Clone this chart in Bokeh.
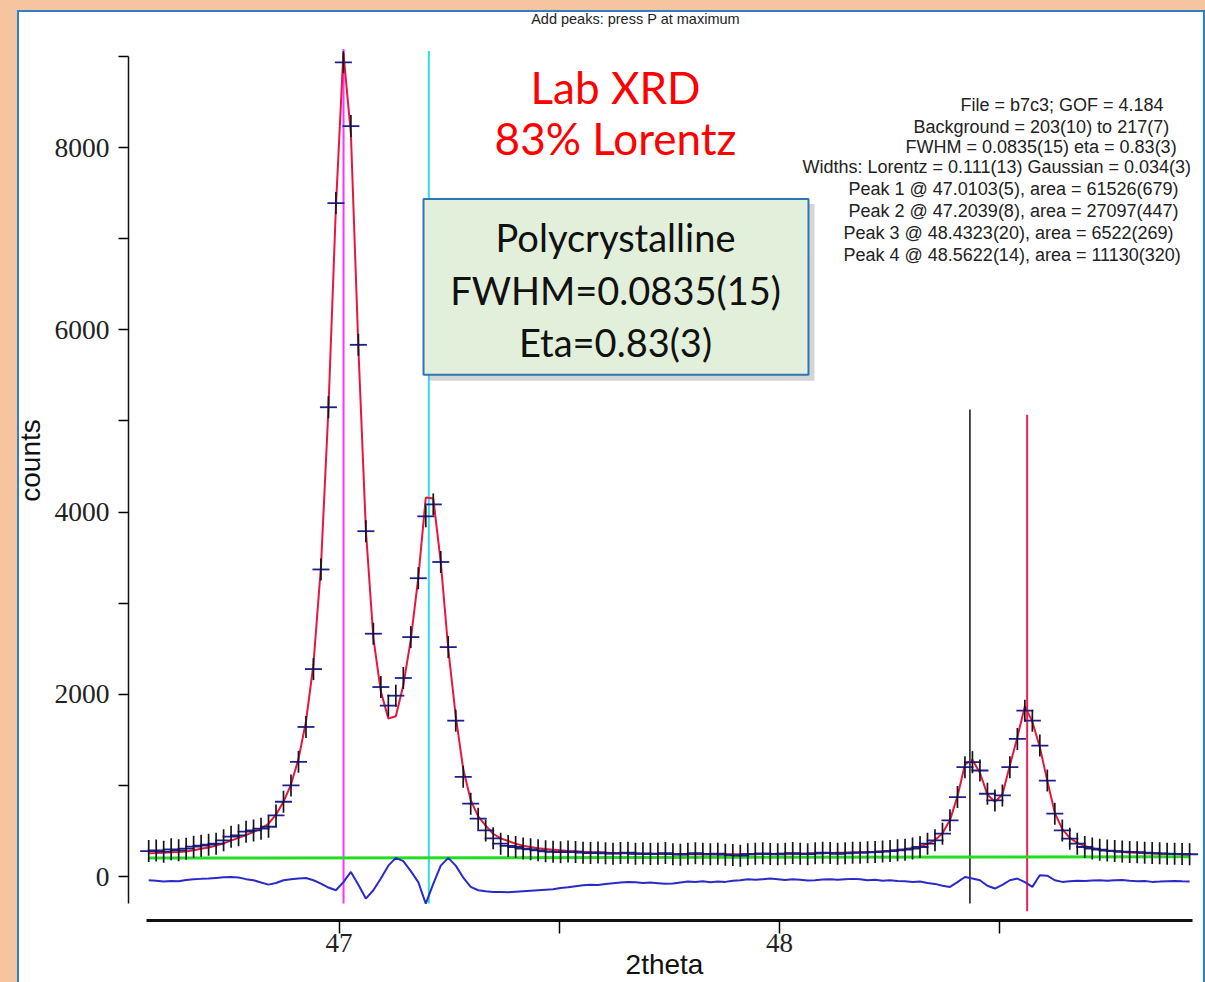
from bokeh.plotting import figure
from bokeh.models import Range1d, FixedTicker, Label
from bokeh.embed import file_html
from bokeh.resources import INLINE
import math

# ---------------- data ----------------
scan_start = 46.568      # first 2theta of the scan
scan_step = 0.017        # scan step (deg)

obs_counts = [
    280, 287, 273, 299, 288, 306, 328, 339, 350, 361,
    398, 438, 453, 493, 507, 526, 547, 671, 821, 1000,
    1259, 1642, 2277, 3370, 5150, 7390, 8935, 8235, 5835, 3790,
    2665, 2080, 1876, 1985, 2179, 2628, 3274, 3953, 4084, 3452,
    2518, 1711, 1095, 800, 635, 507, 420, 361, 336, 325,
    307, 299, 288, 277, 272, 268, 275, 270, 262, 258,
    265, 256, 252, 258, 262, 250, 255, 248, 252, 258,
    246, 240, 250, 256, 250, 245, 252, 240, 236, 230,
    245, 250, 255, 248, 244, 252, 258, 250, 246, 255,
    262, 258, 250, 256, 262, 262, 266, 270, 275, 280,
    288, 295, 307, 325, 361, 398, 471, 617, 873, 1201,
    1256, 1164, 909, 836, 891, 1201, 1511, 1821, 1711, 1438,
    1054, 690, 507, 416, 361, 325, 307, 295, 285, 280,
    275, 270, 268, 262, 258, 255, 252, 250, 248, 245]

calc_counts = [
    255, 258, 262, 266, 270, 276, 290, 305, 320, 340,
    365, 395, 425, 455, 490, 525, 580, 680, 820, 1010,
    1290, 1700, 2330, 3400, 5130, 7350, 9040, 8150, 5800, 3800,
    2620, 2030, 1735, 1760, 2100, 2600, 3280, 4160, 4150, 3450,
    2500, 1760, 1180, 840, 660, 560, 470, 420, 390, 360,
    340, 325, 312, 302, 295, 288, 282, 277, 272, 268,
    265, 262, 259, 257, 255, 253, 251, 250, 249, 248,
    247, 246, 246, 245, 245, 245, 245, 245, 245, 246,
    246, 247, 248, 249, 250, 251, 252, 253, 254, 255,
    257, 259, 261, 263, 265, 267, 268, 272, 277, 283,
    291, 300, 310, 330, 360, 400, 475, 620, 880, 1230,
    1280, 1140, 900, 820, 900, 1220, 1530, 1870, 1700, 1420,
    1050, 700, 520, 425, 370, 335, 312, 296, 285, 276,
    270, 265, 261, 257, 254, 251, 249, 247, 245, 243]

resid_plot = [
    -40, -45, -55, -48, -52, -38, -30, -25, -22, -15,
    -8, -4, -10, -28, -40, -65, -88, -70, -40, -30,
    -20, -15, -40, -77, -120, -150, -60, 51, -90, -241,
    -150, -20, 120, 205, 170, 60, -60, -296, -80, 120,
    205, 120, -10, -113, -150, -160, -168, -170, -172, -165,
    -160, -155, -150, -145, -140, -125, -118, -105, -95, -90,
    -92, -80, -72, -65, -58, -62, -70, -66, -72, -78,
    -77, -65, -55, -60, -50, -62, -55, -58, -45, -40,
    -30, -35, -28, -22, -30, -38, -30, -35, -42, -40,
    -32, -28, -35, -30, -25, -30, -40, -35, -45, -40,
    -48, -52, -60, -55, -70, -80, -100, -113, -60, -4,
    -20, -40, -100, -131, -90, -40, -22, -60, -113, 14,
    10, -40, -58, -50, -45, -48, -42, -40, -45, -40,
    -38, -45, -50, -48, -58, -55, -50, -48, -52, -55]

two_theta = [round(scan_start + i * scan_step, 4) for i in range(len(obs_counts))]

background_ends = [203, 217]
peak_positions = [47.0103, 47.2039, 48.4323, 48.5622]
peak_line_tops = [9080, 9060, 5124, 5069]
peak_line_bottoms = [-296, -296, -296, -380]
peak_line_colors = ["#ff33ff", "#33dddd", "#111111", "#ee2255"]

y_major = [0, 2000, 4000, 6000, 8000]
y_minor = [1000, 3000, 5000, 7000, 9000]
x_major = [47, 48]
x_minor = [47.5, 48.5]

info_lines = [
    "File = b7c3; GOF = 4.184",
    "Background = 203(10) to 217(7)",
    "FWHM = 0.0835(15) eta = 0.83(3)",
    "Widths: Lorentz = 0.111(13) Gaussian = 0.034(3)",
    "Peak 1 @ 47.0103(5), area = 61526(679)",
    "Peak 2 @ 47.2039(8), area = 27097(447)",
    "Peak 3 @ 48.4323(20), area = 6522(269)",
    "Peak 4 @ 48.5622(14), area = 11130(320)",
]
box_lines = ["Polycrystalline", "FWHM=0.0835(15)", "Eta=0.83(3)"]
title_lines = ["Lab XRD", "83% Lorentz"]

# ---------------- layout helpers (page pixels -> data) ----------------
X0PX, XSC = 338.5, 440.5      # page x of 2theta=47, px per degree
Y0PX, YSC = 878.0, 0.0913333  # page y of 0 counts, px per count


def X(px):
    return 47 + (px - X0PX) / XSC


def Y(py):
    return (Y0PX - py) / YSC


p = figure(width=1205, height=982,
           x_range=Range1d(X(128), X(1200)), y_range=Range1d(Y(922), Y(0)),
           output_backend="svg", toolbar_location=None,
           min_border_left=128, min_border_right=5,
           min_border_top=0, min_border_bottom=60)
p.styles = {
    "background-color": "white",
    "box-shadow": ("inset 17px 10px 0px 0px #f7c4a0, "
                   "inset 19px 12px 0px 0px #2f7fc8, "
                   "inset -2px 0px 0px 0px #2f7fc8"),
}
p.background_fill_color = None
p.border_fill_color = None
p.outline_line_color = None
p.xgrid.visible = False
p.ygrid.visible = False

# axes
xa = p.xaxis[0]
xa.bounds = (X(146), X(1192))
xa.ticker = FixedTicker(ticks=x_major, minor_ticks=x_minor)
xa.axis_line_width = 3
xa.axis_line_color = "#111111"
xa.major_tick_in = 0
xa.major_tick_out = 13
xa.minor_tick_in = 0
xa.minor_tick_out = 13
xa.major_tick_line_width = 1.5
xa.minor_tick_line_width = 1.5
xa.major_label_standoff = 0
xa.major_label_text_font = "Liberation Serif"
xa.major_label_text_font_size = "27px"
xa.major_label_text_color = "#222222"
xa.axis_label = "2theta"
xa.axis_label_text_font = "Liberation Sans"
xa.axis_label_text_font_size = "28px"
xa.axis_label_text_font_style = "normal"
xa.axis_label_text_color = "#111111"
xa.axis_label_standoff = -6

ya = p.yaxis[0]
ya.bounds = (Y(905), 9000)
ya.ticker = FixedTicker(ticks=y_major, minor_ticks=y_minor)
ya.axis_line_width = 1.5
ya.axis_line_color = "#111111"
ya.major_tick_in = 0
ya.major_tick_out = 10
ya.minor_tick_in = 0
ya.minor_tick_out = 10
ya.major_tick_line_width = 1.3
ya.minor_tick_line_width = 1.3
ya.major_label_standoff = 9
ya.major_label_text_font = "Liberation Serif"
ya.major_label_text_font_size = "27.5px"
ya.major_label_text_color = "#222222"
ya.axis_label = "counts"
ya.axis_label_text_font = "Liberation Sans"
ya.axis_label_text_font_size = "28px"
ya.axis_label_text_font_style = "normal"
ya.axis_label_text_color = "#111111"
ya.axis_label_standoff = 6

# peak marker lines
for pos, top, bot, col in zip(peak_positions, peak_line_tops, peak_line_bottoms, peak_line_colors):
    p.segment(x0=[pos], y0=[bot], x1=[pos], y1=[top], line_color=col,
              line_width=2 if col != "#111111" else 1.5)

# background
p.line([two_theta[0], two_theta[-1]], background_ends, line_color="#22dd22", line_width=3)

# fit, residual, observed points (blue horizontal + black vertical arms)
p.line(two_theta, calc_counts, line_color="#e8163e", line_width=2)
p.line(two_theta, resid_plot, line_color="#2a2ac8", line_width=2)
p.scatter(two_theta, obs_counts, marker="dash", size=17, line_color="#1e1e8c", line_width=1.8)
p.scatter(two_theta, obs_counts, marker="dash", angle=math.pi / 2, size=22,
          line_color="#15151f", line_width=1.7)

# annotation box (shadow, box)
p.quad(left=[X(428)], right=[X(814)], top=[Y(204)], bottom=[Y(381)],
       fill_color="#888888", fill_alpha=0.35, line_color=None)
p.quad(left=[X(423)], right=[X(808)], top=[Y(199)], bottom=[Y(375)],
       fill_color="#e2efda", line_color="#2e75b6", line_width=2)

for txt, py in zip(box_lines, [237, 290, 342]):
    p.add_layout(Label(x=X(615), y=Y(py), text=txt, text_align="center",
                       text_baseline="middle", text_font="Lato",
                       text_font_size="38px", text_color="#111111"))

for txt, py in zip(title_lines, [87, 138]):
    p.add_layout(Label(x=X(615), y=Y(py), text=txt, text_align="center",
                       text_baseline="middle", text_font="Lato",
                       text_font_size="44px", text_color="#ff0000"))

info_left = [960, 913, 905, 802, 848, 848, 843, 843]
info_y = [105, 126.7, 146.7, 167.3, 189.3, 211, 233.3, 255]
for txt, lx, py in zip(info_lines, info_left, info_y):
    p.add_layout(Label(x=X(lx), y=Y(py), text=txt, text_align="left",
                       text_baseline="middle", text_font="Liberation Sans",
                       text_font_size="18px", text_color="#222222"))

p.add_layout(Label(x=X(635), y=Y(19), text="Add peaks: press P at maximum",
                   text_align="center", text_baseline="middle",
                   text_font="Liberation Sans", text_font_size="14.5px",
                   text_color="#222222"))

open("out.html", "w").write(file_html(p, INLINE))
